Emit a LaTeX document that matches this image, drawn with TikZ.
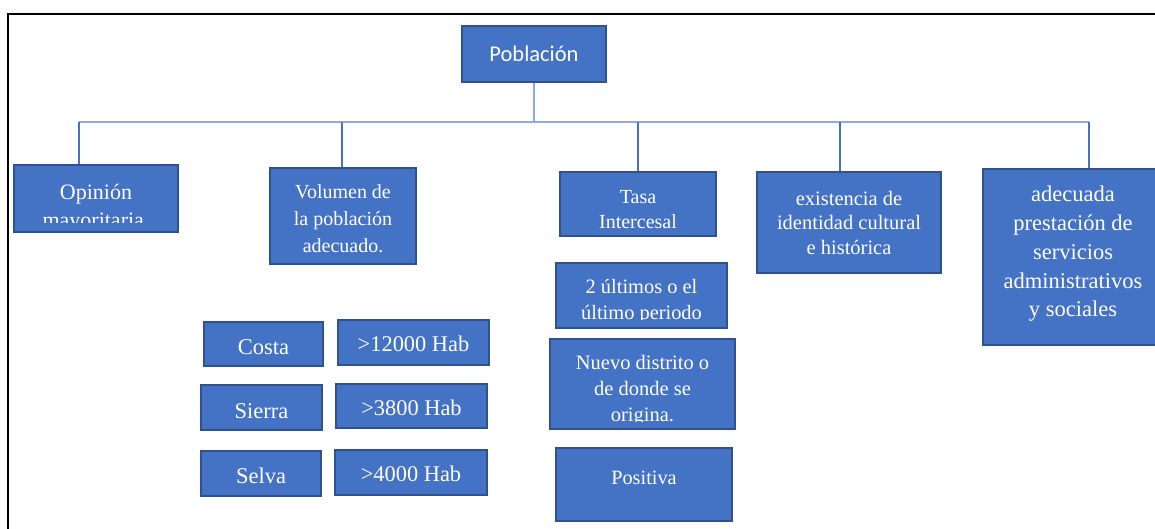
\documentclass[tikz,border=0pt]{standalone}
\usepackage{fontspec}
\setmainfont{Liberation Serif}
\newfontfamily\calibrifont{Carlito}

\definecolor{boxblue}{HTML}{4472C4}
\definecolor{boxline}{HTML}{2F528F}
\definecolor{busblue}{HTML}{8FAADC}

\newcommand{\fsz}[2]{\fontsize{#1}{#2}\selectfont}

\tikzset{
    box/.style={draw=boxline, line width=2pt, fill=boxblue, text=white, align=center, inner sep=0pt},
    boxtext/.style={text=white, align=center, inner sep=0pt},
    bus/.style={busblue, line width=2pt},
    drop/.style={boxblue, line width=1.2pt},
}

\begin{document}
\begin{tikzpicture}[x=1pt, y=-1pt]
    \useasboundingbox (0,0) rectangle (1155,529);
    \clip (0,0) rectangle (1155,529);
    \draw[black, line width=2pt] (8,540) -- (8,14) -- (1170,14);

    % root
    \node[box, minimum width=144pt, minimum height=56pt, font=\calibrifont\fsz{22.5}{27}] (pob) at (534,54) {Población};

    % bus
    \coordinate (hub) at (534,122);
    \coordinate (b1) at (79,122);
    \coordinate (b2) at (342,122);
    \coordinate (b3) at (638,122);
    \coordinate (b4) at (840,122);
    \coordinate (b5) at (1089,122);
    \draw[bus] (b1) -- (b5);
    \draw[busblue, line width=1.5pt] (pob.south) -- (hub);

    % criteria
    \node[box, minimum width=164pt, minimum height=67pt] (opi) at (96,198.5) {};
    \node[box, minimum width=146pt, minimum height=96pt, font=\fsz{20}{26.7}, text height=73pt] (vol) at (343,216) {Volumen de\\la población\\adecuado.};
    \node[box, minimum width=156pt, minimum height=64pt, font=\fsz{20}{25}, text height=48.6pt] (tasa) at (638,204) {Tasa\\Intercesal};
    \node[box, minimum width=184pt, minimum height=101pt, font=\fsz{20.5}{24.5}] (exis) at (849,222.5) {existencia de\\identidad cultural\\e histórica};
    \node[box, minimum width=180pt, minimum height=176pt, font=\fsz{22.5}{28.7}, text depth=11pt] (adec) at (1073,257) {adecuada\\prestación de\\servicios\\administrativos\\y sociales};

    \draw[drop] (b1) -- (b1 |- opi.north);
    \draw[drop] (b2) -- (b2 |- vol.north);
    \draw[drop] (b3) -- (b3 |- tasa.north);
    \draw[drop] (b4) -- (b4 |- exis.north);
    \draw[drop] (b5) -- (b5 |- adec.north);

    \begin{scope}
        \clip (opi.north west) rectangle ([yshift=10pt]opi.south east);
        \node[boxtext, font=\fsz{22}{28.3}] (opitxt) at (96,208) {Opinión\\mayoritaria.};
    \end{scope}

    % regions
    \node[box, minimum width=119pt, minimum height=44pt, font=\fsz{22.5}{27}, text height=21pt, text depth=0pt] (costa) at (263.5,344) {Costa};
    \node[box, minimum width=151pt, minimum height=45pt, font=\fsz{22.4}{27}, text height=18.8pt, text depth=0pt] (hcosta) at (413.5,342.5) {>12000 Hab};
    \node[box, minimum width=121pt, minimum height=45pt, font=\fsz{22.5}{27}, text height=21pt, text depth=0pt] (sierra) at (261.5,407.5) {Sierra};
    \node[box, minimum width=151pt, minimum height=44pt, font=\fsz{22.4}{27}, text height=19.8pt, text depth=0pt] (hsierra) at (411.5,406) {>3800 Hab};
    \node[box, minimum width=120pt, minimum height=45pt, font=\fsz{22.5}{27}, text height=20pt, text depth=0pt] (selva) at (261,473.5) {Selva};
    \node[box, minimum width=152pt, minimum height=45pt, font=\fsz{22.4}{27}, text height=18.2pt, text depth=0pt] (hselva) at (411,472.5) {>4000 Hab};

    % tasa details
    \node[box, minimum width=171pt, minimum height=65pt] (ult) at (641.5,295.5) {};
    \node[box, minimum width=185pt, minimum height=90pt] (nuevo) at (642.5,384) {};
    \node[box, minimum width=176pt, minimum height=73pt, font=\fsz{20.3}{24}, text depth=14pt] (posi) at (644,484.5) {Positiva};

    \begin{scope}
        \clip (ult.north west) rectangle ([yshift=10pt]ult.south east);
        \node[boxtext, font=\fsz{20.4}{26.7}] (ulttxt) at (641.5,301.5) {2 últimos o el\\último periodo};
    \end{scope}
    \begin{scope}
        \clip (nuevo.north west) rectangle ([yshift=9pt]nuevo.south east);
        \node[boxtext, font=\fsz{20.5}{25.8}] (nuevotxt) at (642.5,390.5) {Nuevo distrito o\\de donde se\\origina.};
    \end{scope}
\end{tikzpicture}
\end{document}
